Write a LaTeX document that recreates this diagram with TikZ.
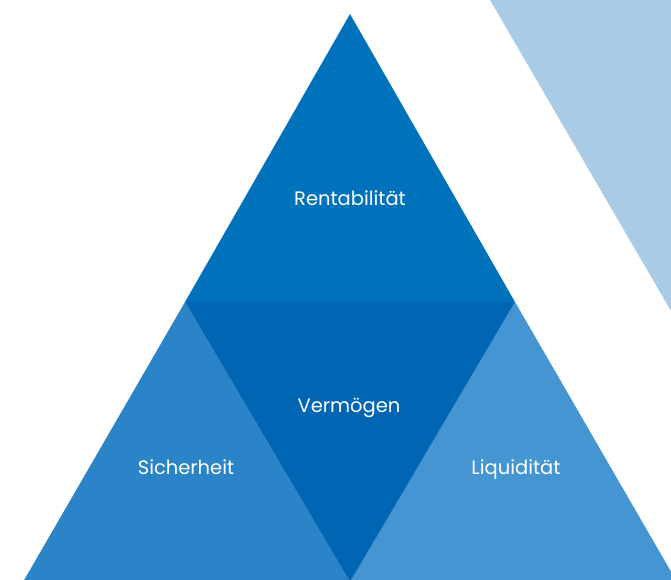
\documentclass[tikz,border=0pt]{standalone}
\usepackage{fontspec}
\setmainfont{Poppins}
\usetikzlibrary{positioning}
\definecolor{pyrtop}{HTML}{0072BC}
\definecolor{pyrmid}{HTML}{0066B3}
\definecolor{pyrleft}{HTML}{2B84C8}
\definecolor{pyrright}{HTML}{4495D1}
\definecolor{pyrback}{HTML}{A9CBE6}

\begin{document}
\begin{tikzpicture}[x=1pt, y=-1pt,
  lbl/.style={text=white, font=\fontsize{19.5}{22}\selectfont, anchor=base, inner sep=0pt}
]
\useasboundingbox (0,0) rectangle (671,580);
% corners of the pyramid
\coordinate (apex) at (350,14);
\coordinate (ml)   at (185,302);
\coordinate (mr)   at (515,302);
\coordinate (bl)   at (23,582);
\coordinate (bm)   at (350,582);
\coordinate (br)   at (677,582);
% background wedge
\fill[pyrback] (490,0) -- (671,0) -- (671,311) -- cycle;
% the four triangles
\fill[pyrtop]   (apex) -- (ml) -- (mr) -- cycle;
\fill[pyrleft]  (ml) -- (bl) -- (bm) -- cycle;
\fill[pyrright] (mr) -- (bm) -- (br) -- cycle;
\fill[pyrmid]   (ml) -- (mr) -- (bm) -- cycle;
% labels
\node[lbl] (rent) at (350,205) {Rentabilität};
\node[lbl] (verm) at (349,412) {Vermögen};
\node[lbl] (sich) at (186,474) {Sicherheit};
\node[lbl] (liqu) at (516,474) {Liquidität};
\end{tikzpicture}
\end{document}
